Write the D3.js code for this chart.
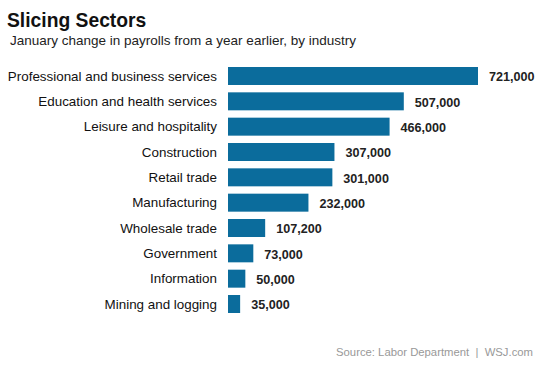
<!DOCTYPE html>
<html><head><meta charset="utf-8">
<script src="https://cdn.jsdelivr.net/npm/d3@7"></script>
<style>body{margin:0;background:#fff;font-family:"Liberation Sans",Arial,sans-serif}</style>
</head><body><svg id="c" width="550" height="367"></svg>
<script>
const categories = ["Professional and business services","Education and health services","Leisure and hospitality","Construction","Retail trade","Manufacturing","Wholesale trade","Government","Information","Mining and logging"];
const values = [721000,507000,466000,307000,301000,232000,107200,73000,50000,35000];

const svg = d3.select("#c");
const x = d3.scaleLinear().domain([0,721000]).range([228,478]);
const y = d3.scaleBand().domain(categories).range([67,313]).paddingInner(0.29).paddingOuter(0);

svg.append("text").attr("x",7).attr("y",27).attr("font-size",19.3).attr("font-weight","bold").attr("fill","#111").text("Slicing Sectors");
svg.append("text").attr("x",10).attr("y",45).attr("font-size",13.5).attr("fill","#222").text("January change in payrolls from a year earlier, by industry");

const g = svg.append("g");
g.selectAll("rect").data(values).join("rect")
  .attr("x",x(0)).attr("y",(d,i)=>y(categories[i]))
  .attr("width",d=>x(d)-x(0)).attr("height",y.bandwidth()).attr("fill","#0b6c9c");
g.selectAll("text.cat").data(categories).join("text").attr("class","cat")
  .attr("x",217).attr("y",d=>y(d)+y.bandwidth()/2).attr("dy","0.35em")
  .attr("text-anchor","end").attr("font-size",13.4).attr("fill","#111").text(d=>d);
g.selectAll("text.val").data(values).join("text").attr("class","val")
  .attr("x",d=>x(d)+11).attr("y",(d,i)=>y(categories[i])+y.bandwidth()/2+1).attr("dy","0.35em")
  .attr("font-size",12.6).attr("font-weight","bold").attr("fill","#222").text(d=>d3.format(",")(d));

svg.append("text").attr("x",533).attr("y",356).attr("text-anchor","end").attr("font-size",11.3).attr("fill","#999").style("white-space","pre").text("Source: Labor Department  |  WSJ.com");
</script></body></html>
